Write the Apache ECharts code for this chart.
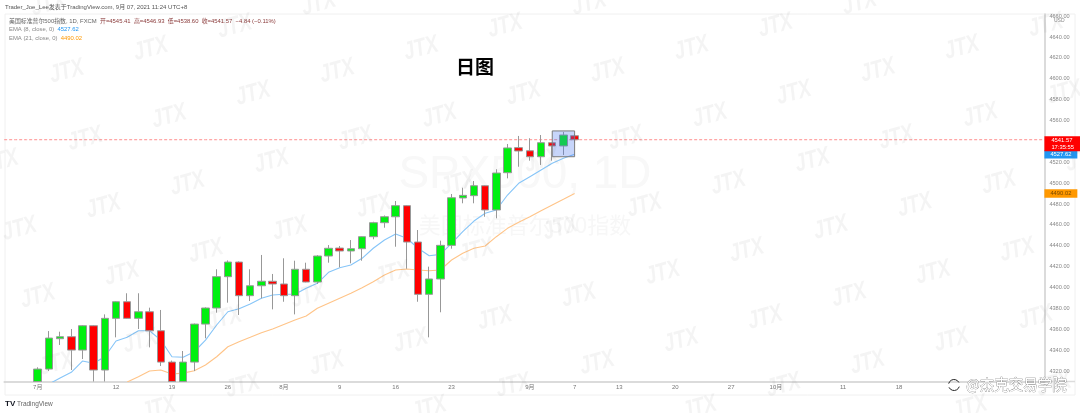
<!DOCTYPE html>
<html>
<head>
<meta charset="utf-8">
<title>SPX500 日图</title>
<script src="https://cdn.jsdelivr.net/npm/echarts@6/dist/echarts.min.js"></script>
<style>
  html, body { margin: 0; padding: 0; background: #fff; }
  #chart, #overlay { position: absolute; left: 0; top: 0; width: 1080px; height: 413px; }
  /* the reference is an upscaled screenshot, only the title and the caption are sharp */
  #chart { filter: blur(0.7px); }
</style>
</head>
<body>
<div id="chart"></div>
<div id="overlay"></div>
<script>
// 2021-07 .. 2021-09-07 daily candles
// what runs below the axis in the picture can't be read, those values sit on the axis minimum 4310
const openV = [4310,4321.9,4351,4352.9,4340.1,4363.4,4321,4370.5,4386.4,4370.5,4376.8,4358.6,4328.6,4310,4328.6,4365,4380.4,4410.4,4424.4,4392.2,4401.7,4406,4403.4,4392.2,4417.5,4405.3,4430.2,4437.8,4435,4437.2,4448.7,4462.1,4467.8,4478.4,4443.6,4393.5,4408.2,4440.4,4485.8,4488,4497.5,4474.3,4510,4534,4531,4525.3,4538.7,4535.6,4545.41];
const closeV = [4321.9,4351.6,4352.9,4340.1,4363.4,4321,4370.5,4386.4,4370.5,4376.8,4358.6,4328.6,4310,4328.6,4365,4380.4,4410.4,4424.4,4392.2,4401.7,4406,4403.4,4392.2,4417.5,4405.3,4430.2,4437.6,4435,4437.2,4448.7,4462.1,4467.8,4478.4,4443.6,4393.5,4408.2,4440.4,4486,4488.3,4497.5,4474.3,4509.7,4533.7,4530.8,4525.3,4538.7,4535.6,4546.1,4541.57];
const lowV = [4310,4320,4345,4321,4331.5,4310,4310,4352.3,4370,4360.3,4342.7,4324.8,4310,4310,4320,4351.4,4375.9,4385.5,4373.7,4387.1,4389.7,4379.1,4386.4,4374.3,4405,4403.5,4423.8,4419.4,4423.2,4425.7,4446.2,4457.3,4439.1,4418,4386.4,4352.3,4376.3,4437.2,4480.7,4480.7,4467.8,4466.3,4504.6,4515.7,4521.5,4517.4,4521.5,4527,4538.6];
const highV = [4323.6,4358.3,4357.7,4360.3,4364,4364,4374.3,4387,4394.5,4394.5,4380.7,4378.5,4330,4339.2,4365.5,4381,4417.5,4426,4425,4417.5,4431.2,4413,4428,4425.7,4423.8,4431,4440.7,4439.8,4445.5,4449,4463,4469,4482.9,4479,4455.1,4420,4444.9,4489.6,4495.6,4502,4498,4513.3,4537.5,4545.2,4543,4546.1,4539,4549,4546.93];

// EMA 8 starts on candle 1, EMA 21 on candle 8
const emaFast = [4307.6,4313.3,4318.8,4329.6,4327.4,4333.7,4348.8,4352.3,4358.6,4358.6,4349.7,4333.7,4333.2,4338.5,4349.7,4364.1,4376.8,4379.6,4384.2,4389.7,4392.8,4393.5,4393.5,4399.3,4404,4414.6,4419,4421.6,4428,4437.6,4445.5,4451.3,4447.2,4437.6,4430.5,4431.8,4442.4,4453.5,4463.7,4471.1,4474.3,4488.6,4499.8,4506.2,4512.6,4519,4523.8,4527.62];
const emaSlow = [4309.5,4314.6,4320,4321,4317.2,4318,4320.3,4325.8,4333.7,4343.3,4348.1,4352.3,4356.7,4360.3,4364.6,4368.9,4372.7,4380.1,4384.9,4389.7,4394.5,4399.8,4405.6,4412,4416.8,4417.7,4416.8,4416.1,4416.8,4426.4,4432.8,4437.6,4439.8,4448.7,4456.7,4462.5,4467.8,4473.6,4479.1,4484.5,4490.02];

const yTicks = [4660,4640,4620,4600,4580,4560,4540,4520,4500,4480,4460,4440,4420,4400,4380,4360,4340,4320];
const xTickSlots = [7,12,17,22,27,32,37,44,48,52,57,62,66,72,77];
const xTickTexts = ['12','19','26','8月','9','16','23','9月','7','13','20','27','10月','11','18'];
const firstTickText = '7月';

const lastClose = 4541.57;
const lastFast = 4527.62;
const lastSlow = 4490.02;
const countdown = '17:35:55';

const LEAD = 3;        // empty slots left of the first candle
const SLOTS = 94;      // slots on the time axis
const UP = '#00f010', DOWN = '#ff0000', WICK = '#989898';
const FONT = '"Liberation Sans", "Noto Sans CJK SC", sans-serif';

let categories = [];
for (let i = 0; i < SLOTS; i++) categories.push('');
categories[LEAD] = firstTickText;
xTickSlots.forEach((s, i) => { categories[LEAD + s] = xTickTexts[i]; });

let candles = [];
for (let i = 0; i < LEAD; i++) candles.push(['-', '-', '-', '-']);
openV.forEach((o, i) => candles.push([o, closeV[i], lowV[i], highV[i]]));

function pad(values, start) {
  let out = [];
  for (let i = 0; i < LEAD + start; i++) out.push(null);
  return out.concat(values);
}

// the JTX stamp is a regular lattice over the whole image
let stamps = [];
for (let m = -4; m < 16; m++) {
  for (let n = -3; n < 9; n++) {
    let x = 66.7 + m * 84 + n * 18.4;
    let y = 71.7 - m * 22.6 + n * 67.4;
    if (x < -20 || x > 1100 || y < -10 || y > 425) continue;
    stamps.push({
      type: 'text', x: x, y: y, rotation: 0.26, scaleX: 0.76, z: 100, silent: true,
      style: { text: 'JTX', fill: 'rgba(110,110,110,0.075)', font: 'italic bold 25px ' + FONT, textAlign: 'center', textVerticalAlign: 'middle' }
    });
  }
}

function label(x, y, text, size, fill) {
  return { type: 'text', x: x, y: y, z: 50, silent: true,
    style: { text: text, fill: fill, font: size + 'px ' + FONT, textVerticalAlign: 'middle' } };
}

function priceTag(color, text, textColor, extra) {
  return Object.assign({
    show: true, position: 'end', distance: 0, formatter: text, color: textColor, backgroundColor: color,
    fontSize: 5.8, fontFamily: FONT, padding: [1, 6, 1, 6], lineHeight: 6.5
  }, extra || {});
}

let chart = echarts.init(document.getElementById('chart'));
chart.setOption({
  animation: false,
  backgroundColor: '#fff',
  grid: { left: 4.16, right: 35.6, top: 14, height: 367.5 },
  xAxis: {
    type: 'category', data: categories, boundaryGap: false,
    axisLine: { lineStyle: { color: '#cfcfcf', width: 1.5 } },
    axisTick: { show: false }, splitLine: { show: false },
    axisLabel: { interval: 0, color: '#777', fontSize: 6, fontFamily: FONT, margin: 3, hideOverlap: false }
  },
  yAxis: {
    type: 'value', position: 'right', min: 4310, max: 4662, scale: true,
    axisLine: { show: true, lineStyle: { color: '#cfcfcf', width: 1.5 } },
    axisTick: { show: false }, splitLine: { show: false },
    axisLabel: {
      customValues: yTicks, color: '#888', fontSize: 5.6, fontFamily: FONT, margin: 5,
      showMinLabel: true, showMaxLabel: true, formatter: v => v.toFixed(2)
    }
  },
  series: [
    {
      // last price line
      type: 'line', data: categories.map(() => lastClose), symbol: 'none', z: 2, silent: true,
      lineStyle: { color: '#ff8f8f', type: [3, 2], width: 1 }
    },
    {
      type: 'line', data: pad(emaSlow, 8), symbol: 'none', z: 3, connectNulls: false,
      lineStyle: { color: '#ffc488', width: 1.1 }, silent: true
    },
    {
      type: 'line', data: pad(emaFast, 1), symbol: 'none', z: 3,
      lineStyle: { color: '#86c5f8', width: 1.1 }, silent: true,
      markLine: {
        silent: true, symbol: 'none', animation: false, z: 6,
        lineStyle: { width: 0, opacity: 1, color: 'rgba(0,0,0,0)' },
        data: [
          { yAxis: lastSlow, label: priceTag('#ff9800', lastSlow.toFixed(2), '#7a4a00') },
          { yAxis: lastFast, label: priceTag('#2196f3', lastFast.toFixed(2), '#fff') },
          { yAxis: lastClose, label: priceTag('#ff0000', lastClose.toFixed(2) + '\n' + countdown, '#fff', { padding: [1, 7, 1, 7], offset: [0, 4] }) }
        ]
      },
      markArea: {
        silent: true, z: 10,
        itemStyle: { color: 'rgba(70,115,240,0.30)', borderColor: '#7c7c7c', borderWidth: 1 },
        data: [[{ xAxis: LEAD + 46, yAxis: 4550 }, { xAxis: LEAD + 48, yAxis: 4525.3 }]]
      }
    },
    {
      type: 'candlestick', data: candles, barWidth: 8, z: 4, silent: true,
      itemStyle: { color: UP, color0: DOWN, borderColor: WICK, borderColor0: WICK, borderWidth: 1 }
    }
  ],
  graphic: [
    { type: 'rect', z: -5, silent: true, shape: { x: 5, y: 14, width: 1070, height: 381 }, style: { fill: 'none', stroke: '#f0f0f0', lineWidth: 1 } },
    { type: 'line', z: 1, silent: true, shape: { x1: 1044, y1: 381.5, x2: 1075, y2: 381.5 }, style: { stroke: '#dcdcdc', lineWidth: 1.5 } },
    { type: 'text', x: 525, y: 175, z: -4, silent: true, style: { text: 'SPX500, 1D', fill: '#f8f8f8', font: '46px ' + FONT, textAlign: 'center', textVerticalAlign: 'middle' } },
    { type: 'text', x: 525, y: 225, z: -4, silent: true, style: { text: '美国标准普尔500指数', fill: '#f7f7f7', font: '22px "Noto Sans CJK SC"', textAlign: 'center', textVerticalAlign: 'middle' } },
    label(5, 7.5, 'Trader_Joe_Lee发表于TradingView.com, 9月 07, 2021 11:24 UTC+8', 6, '#555'),
    {
      type: 'text', x: 9, y: 21, z: 50, silent: true,
      style: {
        text: '{t|美国标准普尔500指数, 1D, FXCM  }{v|开=4545.41  高=4546.93  低=4538.60  收=4541.57  −4.84 (−0.11%)}',
        textVerticalAlign: 'middle',
        rich: { t: { fill: '#666', font: '5.9px ' + FONT }, v: { fill: '#8a3a3a', font: '5.9px ' + FONT } }
      }
    },
    {
      type: 'text', x: 9, y: 29.5, z: 50, silent: true,
      style: { text: '{t|EMA (8, close, 0)  }{v|' + lastFast.toFixed(2) + '}', textVerticalAlign: 'middle',
        rich: { t: { fill: '#888', font: '5.9px ' + FONT }, v: { fill: '#2196f3', font: '5.9px ' + FONT } } }
    },
    {
      type: 'text', x: 9, y: 38, z: 50, silent: true,
      style: { text: '{t|EMA (21, close, 0)  }{v|' + lastSlow.toFixed(2) + '}', textVerticalAlign: 'middle',
        rich: { t: { fill: '#888', font: '5.9px ' + FONT }, v: { fill: '#ff9800', font: '5.9px ' + FONT } } }
    },
    label(1054, 21, 'USD', 5, '#888'),
    { type: 'text', x: 5, y: 404, z: 50, silent: true, style: { text: 'TV', fill: '#131722', font: 'bold 8px ' + FONT, textVerticalAlign: 'middle' } },
    label(17, 404, 'TradingView', 6.5, '#666')
  ].concat(stamps)
});

// title and caption stay sharp, they were added over the screenshot
let overlay = echarts.init(document.getElementById('overlay'));
overlay.setOption({
  animation: false,
  graphic: [
    { type: 'text', x: 475, y: 66.5, silent: true, style: { text: '日图', fill: '#000', font: 'bold 19px "Noto Sans CJK SC"', textAlign: 'center', textVerticalAlign: 'middle' } },
    { type: 'arc', silent: true, shape: { cx: 954, cy: 385, r: 5.5, startAngle: 0.3, endAngle: 2.7 }, style: { stroke: '#222', fill: 'none', lineWidth: 1 } },
    { type: 'arc', silent: true, shape: { cx: 954, cy: 385, r: 5.5, startAngle: 3.4, endAngle: 5.8 }, style: { stroke: '#222', fill: 'none', lineWidth: 1 } },
    { type: 'text', x: 966, y: 384, silent: true, style: { text: '@杰克交易学院', fill: '#fff', stroke: '#666', lineWidth: 0.5, font: '14.5px "Noto Sans CJK SC"', textVerticalAlign: 'middle' } }
  ]
});
</script>
</body>
</html>
